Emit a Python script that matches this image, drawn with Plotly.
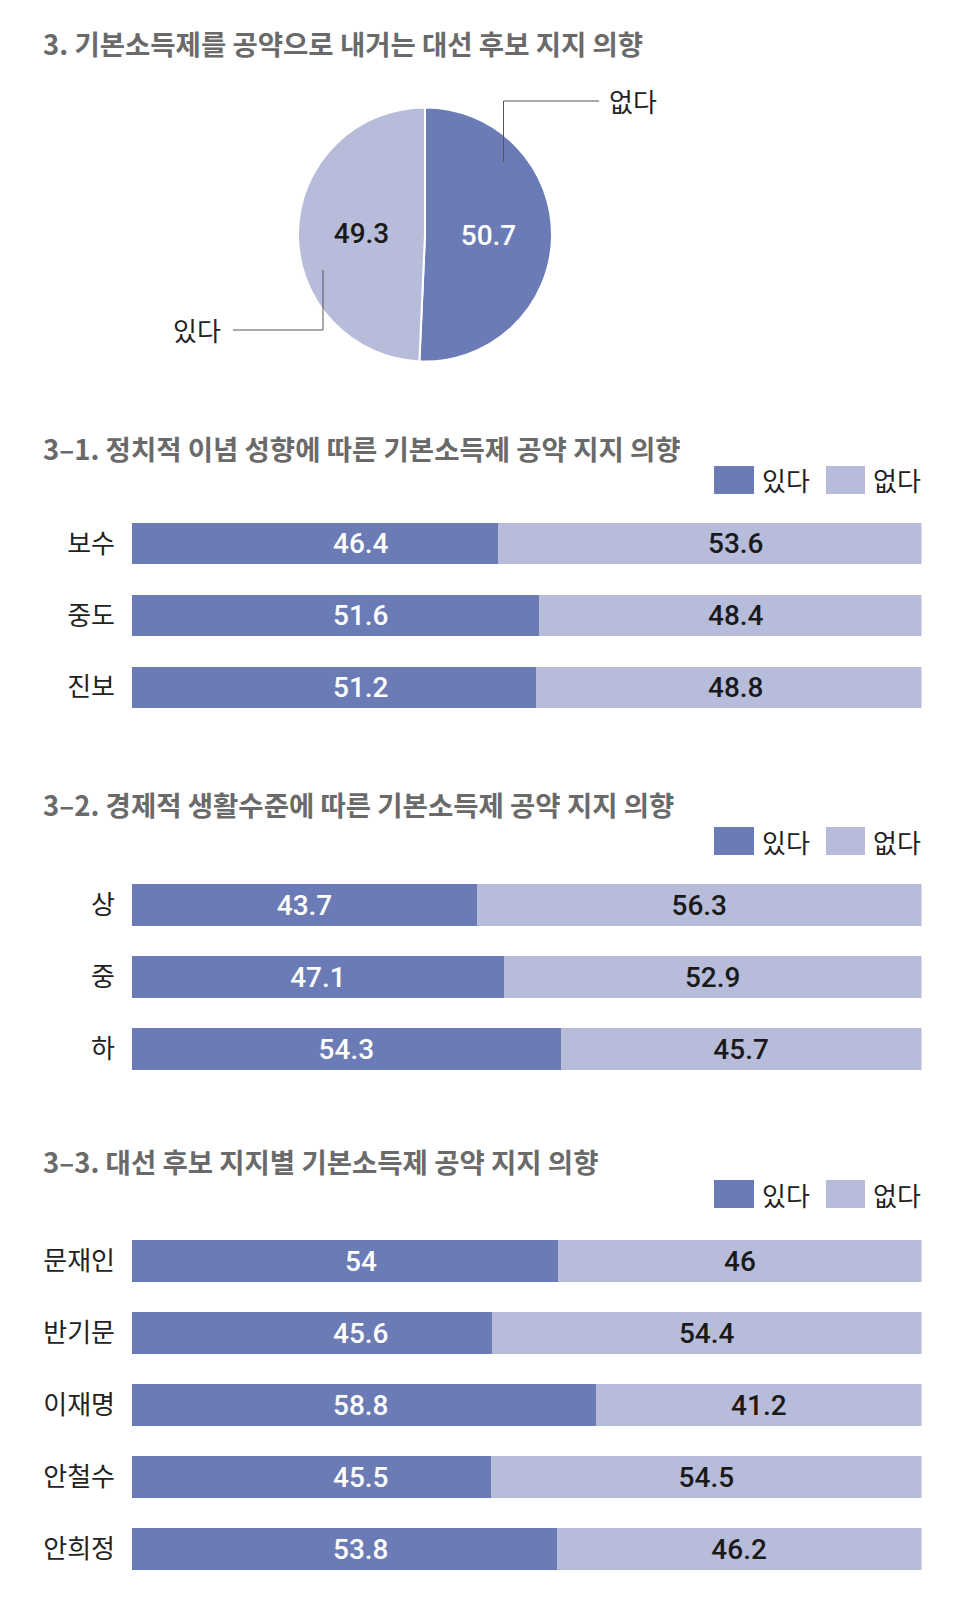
import plotly.graph_objects as go

W, H = 970, 1618

DARK = "#6b7bb6"
LIGHT = "#b7bcdb"
TITLE_C = "#6a6a6a"
TEXT_C = "#222222"
KFONT = "Noto Sans CJK KR"
NFONT = "Roboto"

# ---- data ----
pie_labels = ["없다", "있다"]
pie_values = [50.7, 49.3]

titles = [
    "3. 기본소득제를 공약으로 내거는 대선 후보 지지 의향",
    "3–1. 정치적 이념 성향에 따른 기본소득제 공약 지지 의향",
    "3–2. 경제적 생활수준에 따른 기본소득제 공약 지지 의향",
    "3–3. 대선 후보 지지별 기본소득제 공약 지지 의향",
]
series_names = ["있다", "없다"]

cat1 = ["보수", "중도", "진보"]
yes1 = [46.4, 51.6, 51.2]
no1 = [53.6, 48.4, 48.8]

cat2 = ["상", "중", "하"]
yes2 = [43.7, 47.1, 54.3]
no2 = [56.3, 52.9, 45.7]

cat3 = ["문재인", "반기문", "이재명", "안철수", "안희정"]
yes3 = [54, 45.6, 58.8, 45.5, 53.8]
no3 = [46, 54.4, 41.2, 54.5, 46.2]

# ---- style: fixed label anchor (axis units) per chart, None = centred in segment ----
LABEL_POS = [(29, 76.5), (None, None), (29, None)]

def px(x):
    return x / W

def py(y):
    return 1 - y / H

fig = go.Figure()
annotations = []
shapes = []

# pie
pcx, pcy, pr = 425, 234.5, 127
fig.add_trace(go.Pie(
    labels=pie_labels, values=pie_values,
    text=[f"{v}" for v in pie_values], textinfo="text",
    textposition="inside", insidetextorientation="horizontal",
    sort=False, direction="clockwise", rotation=0,
    marker=dict(colors=[DARK, LIGHT], line=dict(color="white", width=2)),
    textfont=dict(family=NFONT, size=28, weight=500, color=["white", "#1a1a1a"]),
    domain=dict(x=[px(pcx - pr), px(pcx + pr)], y=[py(pcy + pr), py(pcy - pr)]),
    showlegend=False, hoverinfo="label+value",
))

charts = [
    (cat1, yes1, no1, 508, 723, "x", "y"),
    (cat2, yes2, no2, 869, 1085, "x2", "y2"),
    (cat3, yes3, no3, 1225, 1585, "x3", "y3"),
]

layout_axes = {}
for i, (cats, yes, no, top, bot, xa, ya) in enumerate(charts):
    pos_yes, pos_no = LABEL_POS[i]
    for vals, col, tcol, name, pos in [(yes, DARK, "white", series_names[0], pos_yes),
                                        (no, LIGHT, "#1a1a1a", series_names[1], pos_no)]:
        tf = dict(family=NFONT, size=28, color=tcol, weight=500)
        fig.add_trace(go.Bar(
            y=cats, x=vals, orientation="h", name=name,
            marker=dict(color=col, line=dict(width=0)),
            text=[f"{v}" for v in vals] if pos is None else None,
            textposition="inside" if pos is None else "none",
            insidetextanchor="middle", textangle=0, constraintext="none",
            textfont=tf, xaxis=xa, yaxis=ya, showlegend=False,
        ))
        if pos is not None:
            for c, v in zip(cats, vals):
                annotations.append(dict(
                    text=f"{v}", x=pos, y=c, xref=xa, yref=ya,
                    xanchor="center", yanchor="middle", showarrow=False,
                    font=tf,
                ))
    sfx = "" if i == 0 else str(i + 1)
    layout_axes["xaxis" + sfx] = dict(
        domain=[px(132), px(921.5)], range=[0, 100], visible=False,
        anchor="y" + sfx, fixedrange=True,
    )
    layout_axes["yaxis" + sfx] = dict(
        domain=[py(bot), py(top)], range=[len(cats) - 0.5, -0.5],
        anchor="x" + sfx, showgrid=False, zeroline=False, showline=False,
        ticks="", ticklabelstandoff=16,
        tickfont=dict(family=KFONT, size=26, color=TEXT_C), fixedrange=True,
    )

# titles
for t, ty in zip(titles, [43, 448, 804, 1161]):
    annotations.append(dict(
        text=f"<b>{t}</b>", x=px(41), y=py(ty), xref="paper", yref="paper",
        xanchor="left", yanchor="middle", showarrow=False,
        font=dict(family=KFONT, size=27.5, color=TITLE_C),
    ))

# legends
for ly in [480, 841, 1194]:
    for (x0, x1, col, lab, tx) in [(714, 754, DARK, series_names[0], 760),
                                   (826, 865, LIGHT, series_names[1], 871)]:
        shapes.append(dict(type="rect", xref="paper", yref="paper",
                           x0=px(x0), x1=px(x1), y0=py(ly + 14), y1=py(ly - 14),
                           fillcolor=col, line=dict(width=0)))
        annotations.append(dict(
            text=lab, x=px(tx), y=py(ly), xref="paper", yref="paper",
            xanchor="left", yanchor="middle", showarrow=False,
            font=dict(family=KFONT, size=26, color=TEXT_C),
        ))

# pie leader lines and labels
LC = "#555555"
shapes += [
    dict(type="line", xref="paper", yref="paper", x0=px(503.5), x1=px(503.5),
         y0=py(162), y1=py(101), line=dict(color=LC, width=1)),
    dict(type="line", xref="paper", yref="paper", x0=px(503.5), x1=px(599),
         y0=py(101), y1=py(101), line=dict(color=LC, width=1)),
    dict(type="line", xref="paper", yref="paper", x0=px(323), x1=px(323),
         y0=py(270), y1=py(330), line=dict(color=LC, width=1)),
    dict(type="line", xref="paper", yref="paper", x0=px(323), x1=px(233),
         y0=py(330), y1=py(330), line=dict(color=LC, width=1)),
]
annotations.append(dict(text=pie_labels[0], x=px(607), y=py(101), xref="paper", yref="paper",
                        xanchor="left", yanchor="middle", showarrow=False,
                        font=dict(family=KFONT, size=26, color=TEXT_C)))
annotations.append(dict(text=pie_labels[1], x=px(223), y=py(330), xref="paper", yref="paper",
                        xanchor="right", yanchor="middle", showarrow=False,
                        font=dict(family=KFONT, size=26, color=TEXT_C)))

fig.update_layout(
    width=W, height=H, margin=dict(l=0, r=0, t=0, b=0),
    paper_bgcolor="white", plot_bgcolor="white",
    barmode="stack", bargap=0.43,
    annotations=annotations, shapes=shapes,
    font=dict(family=KFONT),
    **layout_axes,
)

fig.write_html("out.html")
